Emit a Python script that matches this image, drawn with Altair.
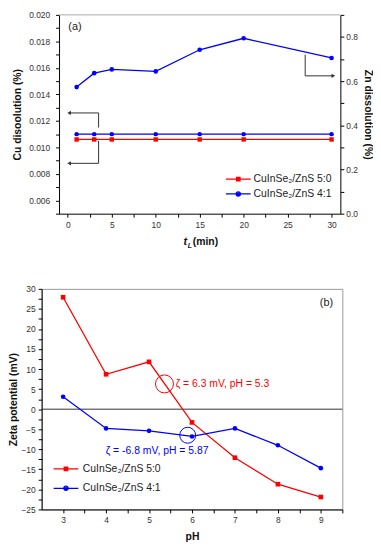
import altair as alt
import pandas as pd

# ---------------- data: panel (a) ----------------
t_min = [1, 3, 5, 10, 15, 20, 30]
cu_50 = [0.0106, 0.0106, 0.0106, 0.0106, 0.0106, 0.0106, 0.0106]
cu_41 = [0.0110, 0.0110, 0.0110, 0.0110, 0.0110, 0.0110, 0.0110]
zn_41 = [0.573, 0.636, 0.653, 0.644, 0.742, 0.794, 0.705]

# ---------------- data: panel (b) ----------------
ph = [3, 4, 5, 6, 7, 8, 9]
zeta_50 = [27.9, 8.7, 11.8, -3.3, -12.1, -18.7, -21.9]
zeta_41 = [3.1, -4.8, -5.4, -6.8, -4.8, -9.0, -14.7]

series = ["CuInSe\u2082/ZnS 5:0", "CuInSe\u2082/ZnS 4:1"]
colors = ["#ff0000", "#0000ff"]
shapes = ["square", "circle"]

# annotation arrows in panel (a) (data units: t, Cu %)
seg_x1 = [3.5, 3.5, 3.5, 3.5, 27.0, 27.0]
seg_y1 = [0.0126, 0.0126, 0.0105, 0.0088, 0.0170, 0.0154]
seg_x2 = [3.5, 0.15, 3.5, 0.15, 27.0, 30.2]
seg_y2 = [0.0115, 0.0126, 0.0088, 0.0088, 0.0154, 0.0154]
head_x = [0.15, 0.15, 30.2]
head_y = [0.0126, 0.0088, 0.0154]
head_shape = ["triangle-left", "triangle-left", "triangle-right"]

# top frame line of panel (a)
frame_t = [-1, 31]
frame_cu = [0.020, 0.020]

# zeta-potential markers in panel (b)
mark_ph = [5.36, 5.9]
mark_z = [6.3, -6.5]
mark_txt = ["\u03b6 = 6.3 mV, pH = 5.3", "\u03b6 = -6.8 mV, pH = 5.87"]
mark_txt_ph = [5.62, 3.99]
mark_txt_z = [6.3, -10.5]

# axis tick values (major + minor)
t_ticks = [0, 2.5, 5, 7.5, 10, 12.5, 15, 17.5, 20, 22.5, 25, 27.5, 30]
cu_ticks = [0.005, 0.006, 0.007, 0.008, 0.009, 0.010, 0.011, 0.012, 0.013,
            0.014, 0.015, 0.016, 0.017, 0.018, 0.019, 0.020]
zn_ticks = [0.0, 0.1, 0.2, 0.3, 0.4, 0.5, 0.6, 0.7, 0.8, 0.9]
ph_ticks = [3, 3.5, 4, 4.5, 5, 5.5, 6, 6.5, 7, 7.5, 8, 8.5, 9, 9.5]
z_ticks = [-25, -22.5, -20, -17.5, -15, -12.5, -10, -7.5, -5, -2.5, 0, 2.5, 5, 7.5,
           10, 12.5, 15, 17.5, 20, 22.5, 25, 27.5, 30]

FONT = "Liberation Sans"
LBL = "#333333"
TS = 3.5

df_cu = pd.DataFrame({
    "t": t_min * 2,
    "cu": cu_50 + cu_41,
    "series": [series[0]] * len(t_min) + [series[1]] * len(t_min),
})
df_zn = pd.DataFrame({"t": t_min, "zn": zn_41})
df_seg = pd.DataFrame({"t": seg_x1, "cu": seg_y1, "t2": seg_x2, "cu2": seg_y2})
df_head = pd.DataFrame({"t": head_x, "cu": head_y, "shape": head_shape})
df_frame = pd.DataFrame({"t": [frame_t[0]], "t2": [frame_t[1]], "cu": [frame_cu[0]]})
df_z = pd.DataFrame({
    "ph": ph * 2,
    "z": zeta_50 + zeta_41,
    "series": [series[0]] * len(ph) + [series[1]] * len(ph),
})
df_mark = pd.DataFrame({"ph": mark_ph, "z": mark_z, "c": colors})
df_mtxt = pd.DataFrame({"ph": mark_txt_ph, "z": mark_txt_z, "txt": mark_txt, "c": colors})
leg_df = pd.DataFrame({"series": series})

color_scale = alt.Scale(domain=series, range=colors)
shape_scale = alt.Scale(domain=series, range=shapes)

sq_path = "M-2.5,0H2.5M-0.35,-0.35H0.35V0.35H-0.35ZM-0.12,-0.12H0.12V0.12H-0.12Z"
ci_path = ("M-2.5,0H2.5M0.42,0A0.42,0.42,0,1,1,-0.42,0A0.42,0.42,0,1,1,0.42,0Z"
           "M0.15,0A0.15,0.15,0,1,1,-0.15,0A0.15,0.15,0,1,1,0.15,0Z")
leg_shape_scale = alt.Scale(domain=series, range=[sq_path, ci_path])

# ---------------- geometry ----------------
L_OFF = 17.6          # top plot starts this far right of bottom plot
W_TOP = 302
H_TOP = 201
W_BOT = 304
H_BOT = 223

xs_top = alt.Scale(domain=[-1, 31], range=[L_OFF, W_TOP], nice=False, zero=False)
cu_scale = alt.Scale(domain=[0.005, 0.020], nice=False, zero=False)
zn_scale = alt.Scale(domain=[0, 0.9], nice=False, zero=False)

x_axis_bottom = alt.Axis(
    values=t_ticks,
    labelExpr="datum.value % 5 == 0 ? format(datum.value, 'd') : ''",
    tickSize=TS, labelPadding=3, title=None, labelFlush=False, labelOverlap=False,
)
cu_axis = alt.Axis(
    values=cu_ticks,
    labelExpr="round(datum.value * 1000) % 2 == 0 ? format(datum.value, '.3f') : ''",
    tickSize=TS, title="Cu disoolution (%)", offset=-L_OFF, labelPadding=6,
    titlePadding=6, labelOverlap=False, labelFlush=False,
)
zn_axis = alt.Axis(
    orient="right", values=zn_ticks,
    labelExpr="round(datum.value * 10) % 2 == 0 && datum.value < 0.85 ? format(datum.value, '.1f') : ''",
    tickSize=TS, title="Zn dissolution (%)", labelPadding=2, titlePadding=5,
    labelOverlap=False, labelFlush=False,
)

# same axis spec on every layer that shares a scale
XC = alt.X("t:Q", scale=xs_top, axis=x_axis_bottom)
YC = alt.Y("cu:Q", scale=cu_scale, axis=cu_axis)
YZ = alt.Y("zn:Q", scale=zn_scale, axis=zn_axis)

top_frame = alt.Chart(df_frame).mark_rule(color="#aaaaaa", strokeWidth=1).encode(
    x=XC, x2="t2:Q", y=YC,
)
cu_line = alt.Chart(df_cu).mark_line(strokeWidth=1.3).encode(
    x=XC, y=YC,
    color=alt.Color("series:N", scale=color_scale, legend=None),
)
cu_pts = alt.Chart(df_cu).mark_point(filled=True, size=20, opacity=1).encode(
    x=XC, y=YC,
    color=alt.Color("series:N", scale=color_scale, legend=None),
    shape=alt.Shape("series:N", scale=shape_scale, legend=None),
)
arrows = alt.Chart(df_seg).mark_rule(color="#333333", strokeWidth=1).encode(
    x=XC, x2="t2:Q", y=YC, y2="cu2:Q",
)
heads = alt.Chart(df_head).mark_point(filled=True, size=18, color="#333333", opacity=1).encode(
    x=XC, y=YC,
    shape=alt.Shape("shape:N", scale=None, legend=None),
)
label_a = alt.Chart(pd.DataFrame({"t": [0.05], "cu": [0.0191], "s": ["(a)"]})).mark_text(
    align="left", baseline="middle", font=FONT, fontSize=11, color="#222222"
).encode(x=XC, y=YC, text="s:N")

# x-axis title  t_L (min)
TY = H_TOP + 29
xt_t = alt.Chart(pd.DataFrame({"s": ["t"]})).mark_text(
    align="left", baseline="middle", font=FONT, fontSize=11,
    fontWeight="bold", fontStyle="italic", color="#111111").encode(
    x=alt.value(143.3), y=alt.value(TY), text="s:N")
xt_l = alt.Chart(pd.DataFrame({"s": ["L"]})).mark_text(
    align="left", baseline="middle", font=FONT, fontSize=7, fontWeight="bold",
    fontStyle="italic", color="#111111").encode(
    x=alt.value(147.6), y=alt.value(TY + 3.5), text="s:N")
xt_m = alt.Chart(pd.DataFrame({"s": ["(min)"]})).mark_text(
    align="left", baseline="middle", font=FONT, fontSize=10.5, fontWeight="bold",
    color="#111111").encode(
    x=alt.value(152.8), y=alt.value(TY), text="s:N")

cu_layer = alt.layer(top_frame, cu_line, cu_pts, arrows, heads, label_a, xt_t, xt_l, xt_m)

zn_line = alt.Chart(df_zn).mark_line(strokeWidth=1.3, color=colors[1]).encode(x=XC, y=YZ)
zn_pts = alt.Chart(df_zn).mark_point(filled=True, size=22, opacity=1, shape="circle",
                                     color=colors[1]).encode(x=XC, y=YZ)
zn_layer = alt.layer(zn_line, zn_pts)


def legend_layer(lx, ly, label_offset, row_pad):
    leg = alt.Legend(
        orient="none", legendX=lx, legendY=ly, title=None, symbolSize=100,
        symbolStrokeWidth=1.3, labelFont=FONT, labelFontSize=10.5, labelColor="#222222",
        labelOffset=label_offset, rowPadding=row_pad, padding=0,
    )
    return alt.Chart(leg_df).transform_filter("false").mark_point(
        filled=False, strokeWidth=1.3, opacity=1
    ).encode(
        color=alt.Color("series:N", scale=color_scale, legend=leg),
        shape=alt.Shape("series:N", scale=leg_shape_scale, legend=leg),
    )


top = alt.layer(
    cu_layer, zn_layer, legend_layer(192.8, 160.0, 9.5, 3)
).resolve_scale(
    y="independent", color="independent", shape="independent"
).properties(width=W_TOP, height=H_TOP, view=alt.ViewBackground(stroke=None))

# ---------------- panel (b) ----------------
xs_bot = alt.Scale(domain=[2.5, 9.5], nice=False, zero=False)
ys_bot = alt.Scale(domain=[-25, 30], nice=False, zero=False)
xb_axis = alt.Axis(
    values=ph_ticks, labelExpr="datum.value % 1 == 0 ? format(datum.value, 'd') : ''",
    tickSize=TS, title="pH", labelPadding=3, titlePadding=7,
    labelOverlap=False, labelFlush=False,
)
yb_axis = alt.Axis(
    values=z_ticks, labelExpr="datum.value % 5 == 0 ? format(datum.value, 'd') : ''",
    tickSize=TS, title="Zeta potential (mV)", labelPadding=3, titlePadding=2,
    labelOverlap=False, labelFlush=False,
)
XB = alt.X("ph:Q", scale=xs_bot, axis=xb_axis)
YB = alt.Y("z:Q", scale=ys_bot, axis=yb_axis)

zero = alt.Chart(pd.DataFrame({"z": [0]})).mark_rule(color="#333333", strokeWidth=1).encode(y=YB)
z_line = alt.Chart(df_z).mark_line(strokeWidth=1.3).encode(
    x=XB, y=YB, color=alt.Color("series:N", scale=color_scale, legend=None),
)
z_pts = alt.Chart(df_z).mark_point(filled=True, size=22, opacity=1).encode(
    x=XB, y=YB,
    color=alt.Color("series:N", scale=color_scale, legend=None),
    shape=alt.Shape("series:N", scale=shape_scale, legend=None),
)
rings = alt.Chart(df_mark).mark_point(shape="circle", filled=False, strokeWidth=1,
                                      opacity=1).encode(
    x=XB, y=YB,
    stroke=alt.Stroke("c:N", scale=None),
    size=alt.Size("c:N", scale=alt.Scale(domain=colors, range=[330, 260]), legend=None),
)
ring_txt = alt.Chart(df_mtxt).mark_text(align="left", baseline="middle", font=FONT,
                                        fontSize=10.5).encode(
    x=XB, y=YB, text="txt:N", color=alt.Color("c:N", scale=None),
)
label_b = alt.Chart(pd.DataFrame({"ph": [9.13], "z": [26.5], "s": ["(b)"]})).mark_text(
    align="center", baseline="middle", font=FONT, fontSize=11, color="#222222"
).encode(x=XB, y=YB, text="s:N")

bottom = alt.layer(
    zero, z_line, z_pts, rings, ring_txt, label_b, legend_layer(18.6, 176.0, 11, 7.6)
).resolve_scale(color="independent", shape="independent").properties(
    width=W_BOT, height=H_BOT, view=alt.ViewBackground(stroke="#999999")
)

chart = alt.vconcat(top, bottom, spacing=35).resolve_scale(
    color="independent", shape="independent"
).resolve_legend(color="independent", shape="independent").properties(
    padding={"left": 0, "top": 0, "right": 0, "bottom": 0}
).configure_axis(
    labelFont=FONT, titleFont=FONT, labelFontSize=8.5, titleFontSize=10.5,
    titleFontWeight="bold", labelColor=LBL, titleColor="#111111",
    domainColor="#000000", tickColor="#000000", grid=False,
)

chart.save("out.html", embed_options={"renderer": "svg", "actions": False})
